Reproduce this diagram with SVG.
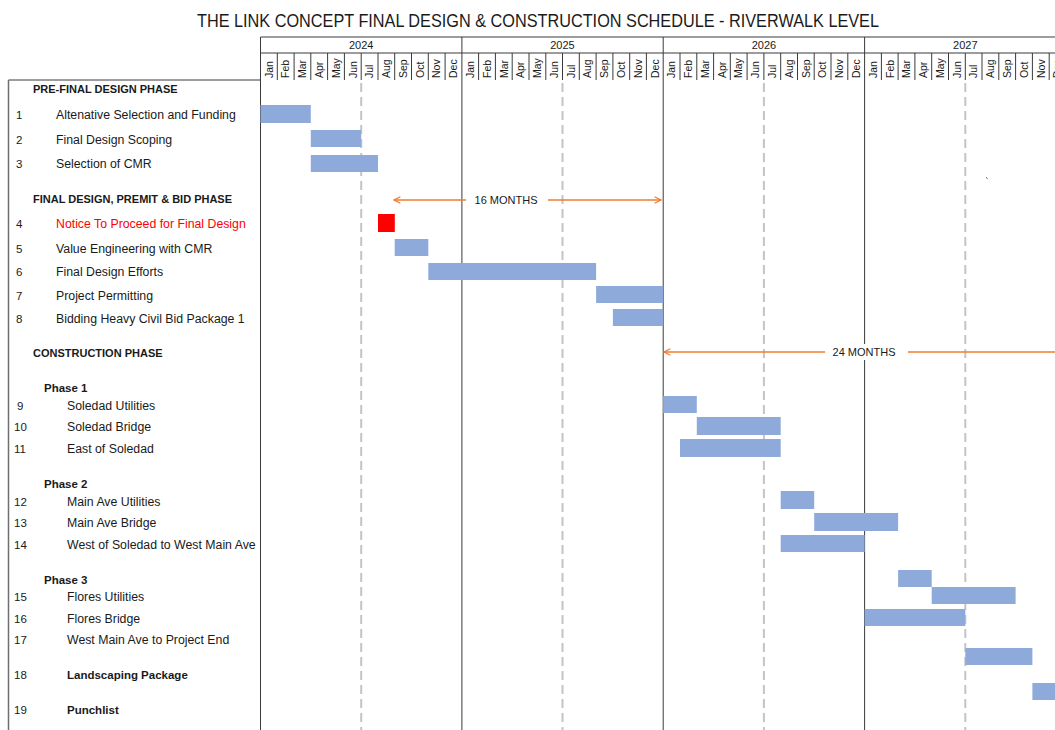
<svg xmlns="http://www.w3.org/2000/svg" width="1055" height="730" viewBox="0 0 1055 730">
<style>
text{font-family:"Liberation Sans",Arial,sans-serif;fill:#1a1a1a}
.title{font-size:17.5px}
.yr{font-size:11px;text-anchor:middle}
.mo{font-size:10.5px}
.num{font-size:11.5px}
.it{font-size:12.3px}
.hd{font-size:11px;font-weight:bold}
.ph{font-size:11.5px;font-weight:bold}
.bar{fill:#8eaadb}
.grid{stroke:#3a3a3a;stroke-width:1;fill:none}
.dash{stroke:#c4c4c4;stroke-width:2;stroke-dasharray:9 5;fill:none}
.arr{stroke:#ed7d31;stroke-width:1.5;fill:none}
.lbl{font-size:11px;text-anchor:middle}
</style>
<defs>
<marker id="ah" viewBox="0 0 10 10" refX="9" refY="5" markerWidth="8" markerHeight="8" orient="auto-start-reverse" markerUnits="userSpaceOnUse">
<path d="M1,1 L9,5 L1,9" fill="none" stroke="#ed7d31" stroke-width="1.6"/>
</marker>
</defs>
<rect width="1055" height="730" fill="#ffffff"/>
<text class="title" x="538" y="27" text-anchor="middle" textLength="682" lengthAdjust="spacingAndGlyphs">THE LINK CONCEPT FINAL DESIGN &amp; CONSTRUCTION SCHEDULE - RIVERWALK LEVEL</text>

<g id="timeline-grid">
<path class="dash" d="M361.2 83V730M562.5 83V730M763.9 83V730M965.3 83V730"/>
<path class="grid" d="M260.5 37H1055M260.5 53H1055M8.5 80H260.5"/>
<path class="grid" d="M260.5 37V730M461.9 37V730M663.2 37V730M864.6 37V730M1065.9 37V80"/>
<path class="grid" d="M277.3 53V80M294.1 53V80M310.8 53V80M327.6 53V80M344.4 53V80M361.2 53V80M378 53V80M394.7 53V80M411.5 53V80M428.3 53V80M445.1 53V80M478.6 53V80M495.4 53V80M512.2 53V80M529 53V80M545.8 53V80M562.5 53V80M579.3 53V80M596.1 53V80M612.9 53V80M629.7 53V80M646.4 53V80M680 53V80M696.8 53V80M713.6 53V80M730.3 53V80M747.1 53V80M763.9 53V80M780.7 53V80M797.5 53V80M814.2 53V80M831 53V80M847.8 53V80M881.4 53V80M898.1 53V80M914.9 53V80M931.7 53V80M948.5 53V80M965.3 53V80M982 53V80M998.8 53V80M1015.6 53V80M1032.4 53V80M1049.2 53V80"/>
<path d="M8.5 80V730" stroke="#6f6f6f" stroke-width="1.5" fill="none"/>
<text class="yr" x="361.2" y="49">2024</text>
<text class="yr" x="562.5" y="49">2025</text>
<text class="yr" x="763.9" y="49">2026</text>
<text class="yr" x="965.3" y="49">2027</text>
</g>

<g id="months">
<text class="mo" transform="translate(272.6,78) rotate(-90)">Jan</text>
<text class="mo" transform="translate(289.4,78) rotate(-90)">Feb</text>
<text class="mo" transform="translate(306.1,78) rotate(-90)">Mar</text>
<text class="mo" transform="translate(322.9,78) rotate(-90)">Apr</text>
<text class="mo" transform="translate(339.7,78) rotate(-90)">May</text>
<text class="mo" transform="translate(356.5,78) rotate(-90)">Jun</text>
<text class="mo" transform="translate(373.3,78) rotate(-90)">Jul</text>
<text class="mo" transform="translate(390.1,78) rotate(-90)">Aug</text>
<text class="mo" transform="translate(406.8,78) rotate(-90)">Sep</text>
<text class="mo" transform="translate(423.6,78) rotate(-90)">Oct</text>
<text class="mo" transform="translate(440.4,78) rotate(-90)">Nov</text>
<text class="mo" transform="translate(457.2,78) rotate(-90)">Dec</text>
<text class="mo" transform="translate(474,78) rotate(-90)">Jan</text>
<text class="mo" transform="translate(490.7,78) rotate(-90)">Feb</text>
<text class="mo" transform="translate(507.5,78) rotate(-90)">Mar</text>
<text class="mo" transform="translate(524.3,78) rotate(-90)">Apr</text>
<text class="mo" transform="translate(541.1,78) rotate(-90)">May</text>
<text class="mo" transform="translate(557.9,78) rotate(-90)">Jun</text>
<text class="mo" transform="translate(574.6,78) rotate(-90)">Jul</text>
<text class="mo" transform="translate(591.4,78) rotate(-90)">Aug</text>
<text class="mo" transform="translate(608.2,78) rotate(-90)">Sep</text>
<text class="mo" transform="translate(625,78) rotate(-90)">Oct</text>
<text class="mo" transform="translate(641.8,78) rotate(-90)">Nov</text>
<text class="mo" transform="translate(658.5,78) rotate(-90)">Dec</text>
<text class="mo" transform="translate(675.3,78) rotate(-90)">Jan</text>
<text class="mo" transform="translate(692.1,78) rotate(-90)">Feb</text>
<text class="mo" transform="translate(708.9,78) rotate(-90)">Mar</text>
<text class="mo" transform="translate(725.7,78) rotate(-90)">Apr</text>
<text class="mo" transform="translate(742.4,78) rotate(-90)">May</text>
<text class="mo" transform="translate(759.2,78) rotate(-90)">Jun</text>
<text class="mo" transform="translate(776,78) rotate(-90)">Jul</text>
<text class="mo" transform="translate(792.8,78) rotate(-90)">Aug</text>
<text class="mo" transform="translate(809.6,78) rotate(-90)">Sep</text>
<text class="mo" transform="translate(826.3,78) rotate(-90)">Oct</text>
<text class="mo" transform="translate(843.1,78) rotate(-90)">Nov</text>
<text class="mo" transform="translate(859.9,78) rotate(-90)">Dec</text>
<text class="mo" transform="translate(876.7,78) rotate(-90)">Jan</text>
<text class="mo" transform="translate(893.5,78) rotate(-90)">Feb</text>
<text class="mo" transform="translate(910.2,78) rotate(-90)">Mar</text>
<text class="mo" transform="translate(927,78) rotate(-90)">Apr</text>
<text class="mo" transform="translate(943.8,78) rotate(-90)">May</text>
<text class="mo" transform="translate(960.6,78) rotate(-90)">Jun</text>
<text class="mo" transform="translate(977.4,78) rotate(-90)">Jul</text>
<text class="mo" transform="translate(994.1,78) rotate(-90)">Aug</text>
<text class="mo" transform="translate(1010.9,78) rotate(-90)">Sep</text>
<text class="mo" transform="translate(1027.7,78) rotate(-90)">Oct</text>
<text class="mo" transform="translate(1044.5,78) rotate(-90)">Nov</text>
<text class="mo" transform="translate(1061.2,78) rotate(-90)">Dec</text>
</g>

<g id="sec-prefinal"><text class="hd" x="33" y="93">PRE-FINAL DESIGN PHASE</text></g>
<g id="task-1"><text class="num" x="16" y="118.5">1</text><text class="it" x="56" y="118.5">Altenative Selection and Funding</text><rect class="bar" x="260.5" y="105" width="50.3" height="18"/></g>
<g id="task-2"><text class="num" x="16" y="143.5">2</text><text class="it" x="56" y="143.5">Final Design Scoping</text><rect class="bar" x="310.8" y="130" width="50.4" height="17"/></g>
<g id="task-3"><text class="num" x="16" y="167.5">3</text><text class="it" x="56" y="167.5">Selection of CMR</text><rect class="bar" x="310.8" y="155" width="67.2" height="17"/></g>

<g id="sec-final"><text class="hd" x="33" y="202.5">FINAL DESIGN, PREMIT &amp; BID PHASE</text></g>
<g id="task-4"><text class="num" x="16" y="227.5">4</text><text class="it" x="56" y="227.5" style="fill:#ff0000">Notice To Proceed for Final Design</text><rect x="378" y="214" width="16.8" height="18" fill="#ff0000"/></g>
<g id="task-5"><text class="num" x="16" y="252.5">5</text><text class="it" x="56" y="252.5">Value Engineering with CMR</text><rect class="bar" x="394.7" y="239" width="33.6" height="17"/></g>
<g id="task-6"><text class="num" x="16" y="275.5">6</text><text class="it" x="56" y="275.5">Final Design Efforts</text><rect class="bar" x="428.3" y="263" width="167.8" height="17"/></g>
<g id="task-7"><text class="num" x="16" y="299.5">7</text><text class="it" x="56" y="299.5">Project Permitting</text><rect class="bar" x="596.1" y="286" width="67.1" height="17"/></g>
<g id="task-8"><text class="num" x="16" y="322.5">8</text><text class="it" x="56" y="322.5">Bidding Heavy Civil Bid Package 1</text><rect class="bar" x="612.9" y="309" width="50.3" height="17"/></g>

<g id="sec-construction"><text class="hd" x="33" y="356.5">CONSTRUCTION PHASE</text></g>
<g id="phase-1"><text class="ph" x="44" y="391.5">Phase 1</text></g>
<g id="task-9"><text class="num" x="17" y="409.5">9</text><text class="it" x="67" y="409.5">Soledad Utilities</text><rect class="bar" x="663.2" y="396" width="33.6" height="17"/></g>
<g id="task-10"><text class="num" x="14" y="430.5">10</text><text class="it" x="67" y="430.5">Soledad Bridge</text><rect class="bar" x="696.8" y="417" width="83.9" height="18"/></g>
<g id="task-11"><text class="num" x="14" y="452.5">11</text><text class="it" x="67" y="452.5">East of Soledad</text><rect class="bar" x="680" y="439" width="100.7" height="18"/></g>
<g id="phase-2"><text class="ph" x="44" y="487.5">Phase 2</text></g>
<g id="task-12"><text class="num" x="14" y="505.5">12</text><text class="it" x="67" y="505.5">Main Ave Utilities</text><rect class="bar" x="780.7" y="491" width="33.5" height="18"/></g>
<g id="task-13"><text class="num" x="14" y="526.5">13</text><text class="it" x="67" y="526.5">Main Ave Bridge</text><rect class="bar" x="814.2" y="513" width="83.9" height="18"/></g>
<g id="task-14"><text class="num" x="14" y="548.5">14</text><text class="it" x="67" y="548.5">West of Soledad to West Main Ave</text><rect class="bar" x="780.7" y="535" width="83.9" height="17"/></g>
<g id="phase-3"><text class="ph" x="44" y="583.5">Phase 3</text></g>
<g id="task-15"><text class="num" x="14" y="600.5">15</text><text class="it" x="67" y="600.5">Flores Utilities</text><rect class="bar" x="898.1" y="570" width="33.6" height="17"/></g>
<g id="task-16"><text class="num" x="14" y="622.5">16</text><text class="it" x="67" y="622.5">Flores Bridge</text><rect class="bar" x="931.7" y="587" width="83.9" height="17"/><rect class="bar" x="864.6" y="609" width="100.7" height="17"/></g>
<g id="task-17"><text class="num" x="14" y="643.5">17</text><text class="it" x="67" y="643.5">West Main Ave to Project End</text><rect class="bar" x="965.3" y="648" width="67.1" height="17"/></g>
<g id="task-18"><text class="num" x="14" y="678.5">18</text><text class="ph" x="67" y="678.5">Landscaping Package</text><rect class="bar" x="1032.4" y="683" width="30" height="17"/></g>
<g id="task-19"><text class="num" x="14" y="713.5">19</text><text class="ph" x="67" y="713.5">Punchlist</text></g>

<g id="connectors">
<path class="arr" d="M466 200H394" marker-end="url(#ah)"/>
<path class="arr" d="M548 200H661" marker-end="url(#ah)"/>
<text class="lbl" x="506" y="204">16 MONTHS</text>
<rect x="826" y="344" width="80" height="16" fill="#ffffff"/>
<path class="arr" d="M825 352H664" marker-end="url(#ah)"/>
<path class="arr" d="M908 352H1055"/>
<text class="lbl" x="864" y="356">24 MONTHS</text>
</g>
<path d="M986 177.5l1.5 1" stroke="#555" stroke-width="1"/>
</svg>
